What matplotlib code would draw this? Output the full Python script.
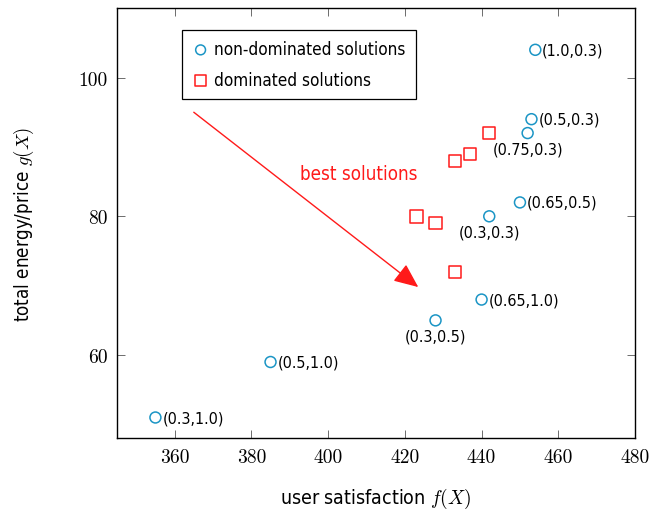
import matplotlib
matplotlib.use("Agg")
import matplotlib.pyplot as plt

plt.rcParams['mathtext.fontset'] = 'cm'

# non-dominated solutions (circles)
nd_x = [454, 453, 452, 450, 442, 440, 428, 385, 355]
nd_y = [104, 94, 92, 82, 80, 68, 65, 59, 51]
nd_labels = ['(1.0,0.3)', '(0.5,0.3)', '(0.75,0.3)', '(0.65,0.5)', '(0.3,0.3)',
             '(0.65,1.0)', '(0.3,0.5)', '(0.5,1.0)', '(0.3,1.0)']
# where the label sits: 'r' right of the point, 'b' below it
nd_pos = ['r', 'r', 'b', 'r', 'b', 'r', 'b', 'r', 'r']

# dominated solutions (squares)
d_x = [442, 437, 433, 423, 428, 433]
d_y = [92, 89, 88, 80, 79, 72]

arrow_start = (365, 95)
arrow_end = (423.5, 69.8)

blue = '#1b95c5'
red = '#ff1a1a'
sans = dict(family='DejaVu Sans', stretch='condensed')

fig = plt.figure(figsize=(6.65, 5.10), dpi=100)
ax = fig.add_axes([0.176, 0.1386, 0.779, 0.8434])

ax.scatter(nd_x, nd_y, s=62, facecolors='none', edgecolors=blue, linewidths=1.1,
           label='non-dominated solutions', zorder=3)
ax.scatter(d_x, d_y, marker='s', s=80, facecolors='none', edgecolors=red, linewidths=1.1,
           label='dominated solutions', zorder=3)

for x, y, t, p in zip(nd_x, nd_y, nd_labels, nd_pos):
    if p == 'r':
        ax.annotate(t, (x, y), xytext=(5, 0), textcoords='offset points',
                    ha='left', va='center', fontsize=11.5, **sans)
    else:
        ax.annotate(t, (x, y), xytext=(0, -6), textcoords='offset points',
                    ha='center', va='top', fontsize=11.5, **sans)

ax.annotate('', xy=arrow_end, xytext=arrow_start,
            arrowprops=dict(arrowstyle='-|>,head_length=1.5,head_width=0.65',
                            color=red, lw=1.0, shrinkA=0, shrinkB=0))
ax.text(408, 86.2, 'best solutions', color=red, fontsize=13.5, ha='center', va='center', **sans)

ax.set_xlim(345, 480)
ax.set_ylim(48, 110)
ax.set_xticks([360, 380, 400, 420, 440, 460, 480])
ax.set_yticks([60, 80, 100])
ax.tick_params(direction='in', top=True, right=True, length=6, width=0.6,
               color='#555555', labelsize=14, pad=7)
for lab in ax.get_xticklabels() + ax.get_yticklabels():
    lab.set_fontfamily('cmr10')
for sp in ax.spines.values():
    sp.set_linewidth(1.0)

ax.set_xlabel('user satisfaction $f(X)$', fontsize=14, labelpad=14, **sans)
ax.set_ylabel('total energy/price $g(X)$', fontsize=13.5, labelpad=30, **sans)

leg = ax.legend(loc='upper left', bbox_to_anchor=(0.125, 0.949), prop=dict(size=12.3, **sans),
                fancybox=False, edgecolor='black', framealpha=1, handletextpad=0.3,
                borderpad=0.6, labelspacing=0.75, handlelength=1.0, borderaxespad=0,
                markerscale=0.9)
leg.get_frame().set_linewidth(0.9)

fig.savefig('out.png', dpi=100)
